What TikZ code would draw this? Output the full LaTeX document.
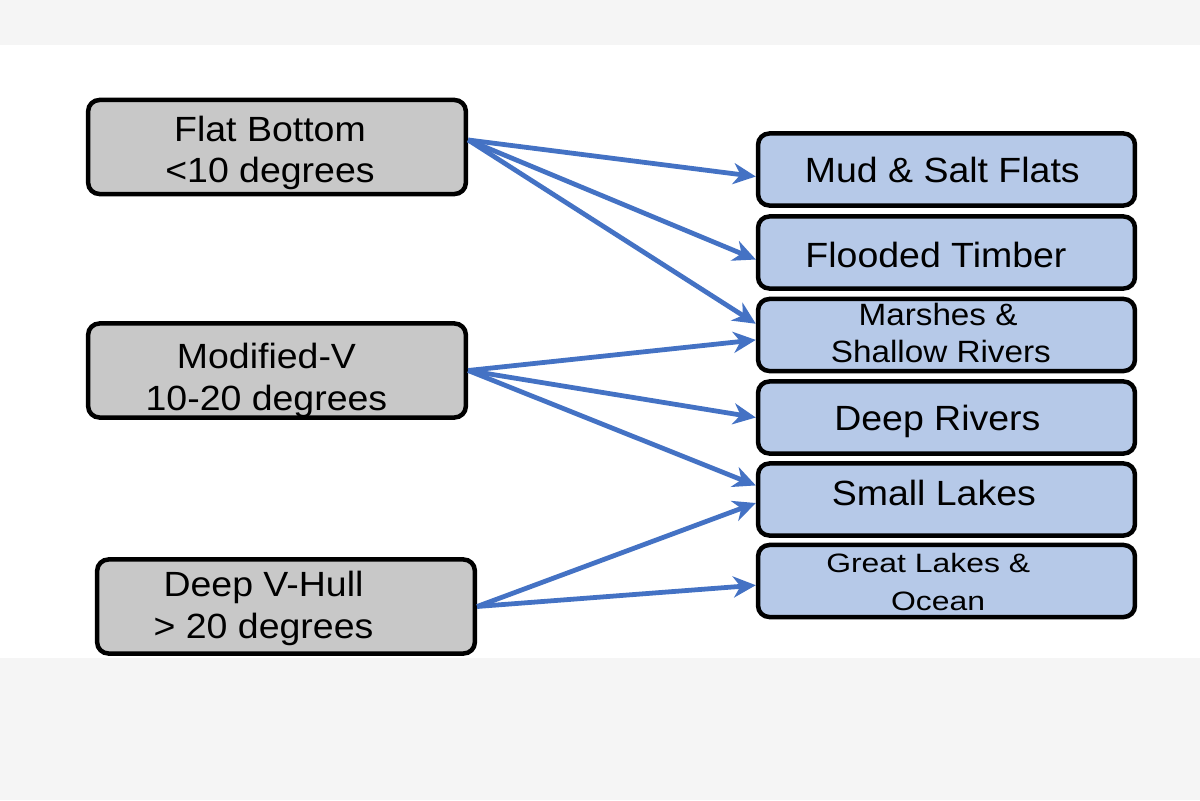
\documentclass[tikz,border=0pt]{standalone}
\usepackage{fontspec}
\setmainfont{Liberation Sans}[FakeStretch=1.07]
\newfontfamily\marshfont{Liberation Sans}[FakeStretch=1.08]
\newfontfamily\oceanfont{Liberation Sans}[FakeStretch=1.2]
\usepackage{tikz}
\usetikzlibrary{
    calc,
    arrows.meta
}
\definecolor{hullgray}{RGB}{200,200,200}
\definecolor{waterblue}{RGB}{182,201,232}
\definecolor{linkblue}{RGB}{68,114,196}
\definecolor{paper}{RGB}{245,245,245}
\newcommand{\boxfont}{\fontsize{24.9}{29.5}\selectfont}
\newcommand{\twolinefont}{\marshfont\fontsize{21.9}{27}\selectfont}
\newcommand{\oceanlinefont}{\oceanfont\fontsize{18.9}{27}\selectfont}
\newcommand{\pad}[1]{\hspace*{#1}}
\tikzset{
    hullbox/.style={draw=black, line width=3.2pt, fill=hullgray, rounded corners=8pt,
        minimum width=9.44cm, minimum height=2.35cm, align=center, inner sep=0pt,
        font=\boxfont, text depth=0pt, text height=#1},
    waterbox/.style={draw=black, line width=3.2pt, fill=waterblue, rounded corners=8pt,
        minimum width=9.42cm, minimum height=1.8cm, align=center, inner sep=0pt,
        font=\boxfont, text depth=0pt, text height=#1},
    link/.style={draw=linkblue, line width=3.4pt, -{Stealth[length=16pt,width=15pt,inset=5pt]}}
}

\begin{document}
\begin{tikzpicture}[x=0.025cm,y=-0.025cm]
        \useasboundingbox (0,0) rectangle (1200,800);
        \fill[paper] (0,0) rectangle (1200,800);
        \fill[white] (0,45) rectangle (1200,658);

        % hull types
        \node[hullbox=51.2pt] (flat)  at (277,147)   {Flat Bottom\pad{10pt}\\<10 degrees\pad{10pt}};
        \node[hullbox=56.2pt] (modv)  at (277,370.5) {Modified-V\pad{15pt}\\10-20 degrees\pad{15pt}};
        \node[hullbox=44.8pt] (deepv) at (286,606.5) {Deep V-Hull\pad{32pt}\\> 20 degrees\pad{32pt}};

        % waters
        \node[waterbox=19.2pt] (mud)    at (946.5,169.5) {Mud \& Salt Flats\pad{6pt}};
        \node[waterbox=21.3pt] (timber) at (946.5,252.5) {Flooded Timber\pad{15pt}};
        \node[waterbox=39.8pt,font=\twolinefont] (marsh) at (946.5,335)
            {Marshes \&\pad{12pt}\\Shallow Rivers\pad{8pt}};
        \node[waterbox=17.8pt] (river)  at (946.5,417.5) {Deep Rivers\pad{13pt}};
        \node[waterbox=8.5pt]  (lake)   at (946.5,499.5) {Small Lakes\pad{18pt}};
        \node[waterbox=42pt,font=\oceanlinefont] (ocean) at (946.5,581)
            {Great Lakes \&\pad{26pt}\\Ocean\pad{12pt}};

        \draw[link] ([yshift=5pt]flat.east) -- ([yshift=-5pt]mud.west);
        \draw[link] ([yshift=5pt]flat.east) -- ([yshift=-5pt]timber.west);
        \draw[link] ([yshift=5pt]flat.east) -- ([yshift=8pt]marsh.west);

        \draw[link] (modv.east) -- ([yshift=-3.5pt]marsh.west);
        \draw[link] (modv.east) -- (river.west);
        \draw[link] (modv.east) -- ([yshift=10pt]lake.west);

        \draw[link] (deepv.east) -- ([yshift=-2.5pt]lake.west);
        \draw[link] (deepv.east) -- ([yshift=-3pt]ocean.west);
    \end{tikzpicture}
\end{document}
